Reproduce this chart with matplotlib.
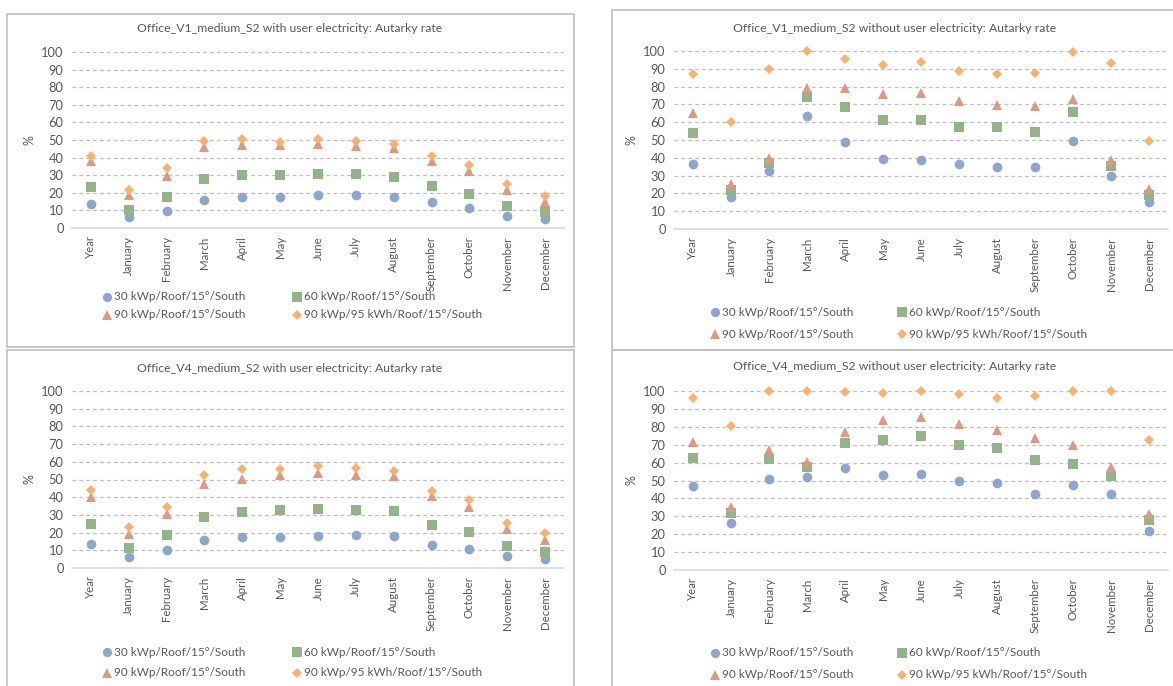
import matplotlib
matplotlib.use("Agg")
import matplotlib.pyplot as plt
from matplotlib.patches import Rectangle
from matplotlib.lines import Line2D

plt.rcParams['font.family'] = ['Lato', 'DejaVu Sans']

categories = ['Year', 'January', 'February', 'March', 'April', 'May', 'June',
              'July', 'August', 'September', 'October', 'November', 'December']
series_names = ['30 kWp/Roof/15°/South', '60 kWp/Roof/15°/South',
                '90 kWp/Roof/15°/South', '90 kWp/95 kWh/Roof/15°/South']

titles = ['Office_V1_medium_S2 with user electricity: Autarky rate',
          'Office_V1_medium_S2 without user electricity: Autarky rate',
          'Office_V4_medium_S2 with user electricity: Autarky rate',
          'Office_V4_medium_S2 without user electricity: Autarky rate']

v1_with_30 = [13.7, 6.0, 9.8, 15.8, 17.7, 17.7, 18.8, 18.5, 17.5, 14.9, 11.1, 6.8, 5.1]
v1_with_60 = [23.5, 10.5, 17.5, 27.9, 29.9, 30.0, 30.7, 30.5, 29.2, 24.1, 19.6, 12.4, 8.9]
v1_with_90 = [38.0, 18.8, 29.8, 45.8, 47.0, 47.0, 48.0, 46.5, 45.4, 38.2, 32.4, 21.7, 15.0]
v1_with_90b = [40.9, 21.5, 33.9, 49.3, 50.3, 49.0, 50.3, 49.5, 48.0, 40.7, 36.0, 25.2, 18.0]

v1_without_30 = [36.5, 18.0, 32.8, 63.3, 48.9, 39.3, 39.0, 36.5, 34.8, 34.6, 49.3, 29.6, 15.0]
v1_without_60 = [54.1, 21.7, 37.3, 74.0, 68.5, 61.4, 61.2, 57.5, 57.3, 54.7, 65.5, 35.2, 18.9]
v1_without_90 = [65.0, 25.0, 39.7, 79.4, 79.4, 75.7, 76.2, 71.7, 69.9, 69.1, 73.2, 39.0, 22.7]
v1_without_90b = [86.9, 60.1, 90.1, 99.8, 95.3, 91.9, 93.8, 88.6, 87.1, 87.6, 99.3, 93.4, 49.3]

v4_with_30 = [13.6, 6.4, 10.4, 16.0, 17.3, 17.5, 18.3, 18.5, 17.9, 13.2, 10.9, 6.8, 5.1]
v4_with_60 = [24.7, 11.1, 18.5, 29.0, 31.8, 32.6, 33.1, 33.0, 32.4, 24.3, 20.3, 12.4, 9.0]
v4_with_90 = [40.1, 19.4, 30.7, 47.6, 50.5, 52.4, 53.7, 52.4, 51.8, 40.5, 34.5, 22.2, 16.0]
v4_with_90b = [43.9, 23.0, 34.5, 52.4, 55.9, 55.9, 57.4, 56.3, 54.8, 43.3, 38.2, 25.2, 19.6]

v4_without_30 = [46.9, 26.5, 50.8, 52.0, 57.2, 53.3, 53.5, 49.7, 48.6, 42.2, 47.3, 42.2, 21.7]
v4_without_60 = [62.8, 32.0, 62.2, 57.4, 70.7, 72.5, 75.1, 70.1, 68.4, 61.3, 59.1, 52.3, 27.7]
v4_without_90 = [71.4, 35.3, 67.1, 60.6, 77.2, 83.7, 85.6, 81.5, 78.3, 73.8, 69.9, 57.4, 31.2]
v4_without_90b = [95.9, 80.2, 99.8, 99.8, 99.6, 98.9, 99.8, 98.1, 96.3, 97.0, 99.8, 99.8, 72.7]

panels = [
    [v1_with_30, v1_with_60, v1_with_90, v1_with_90b],
    [v1_without_30, v1_without_60, v1_without_90, v1_without_90b],
    [v4_with_30, v4_with_60, v4_with_90, v4_with_90b],
    [v4_without_30, v4_without_60, v4_without_90, v4_without_90b],
]

colors = ['#8FA6CB', '#94B38A', '#DB9A83', '#F7B26F']
markers = ['o', 's', '^', 'D']
msizes = [7, 7.5, 7, 5]
text_c = '#595959'

W, H = 1173, 686
fig = plt.figure(figsize=(W / 100, H / 100), dpi=100)


def px(x0, y_top, x1, y_bot):
    # pixel box (top-left origin) -> figure fraction rect
    return [x0 / W, 1 - y_bot / H, (x1 - x0) / W, (y_bot - y_top) / H]


# panel frames: (left, top, right, bottom)
frames = [(7, 14, 574, 347), (612, 10, 1185, 350),
          (7, 350, 574, 690), (612, 350, 1185, 690)]
# plot areas: (left, y of 100, right, y of 0)
areas = [(72, 52, 564, 228), (674, 51, 1168, 229),
         (72, 391, 564, 568), (674, 391, 1168, 570)]
title_x = [290, 895, 290, 895]
title_y = [28, 28, 368, 366]
legend_rows = [(297, 315), (312, 334), (652, 673), (653, 675)]
legend_x = [(107, 297), (715, 902), (107, 297), (715, 902)]
ylabel_x = [30, 632, 30, 632]

for k in range(4):
    l, t, r, b = frames[k]
    fig.patches.append(Rectangle((l / W, 1 - b / H), (r - l) / W, (b - t) / H,
                                 transform=fig.transFigure, fill=False,
                                 edgecolor='#BFBFBF', linewidth=1.2))

    ax = fig.add_axes(px(*areas[k]))
    x = list(range(len(categories)))
    for s in range(4):
        ax.plot(x, panels[k][s], linestyle='none', marker=markers[s],
                markersize=msizes[s], color=colors[s], markeredgewidth=0,
                zorder=3 + s, clip_on=False)
    ax.set_xlim(-0.5, len(categories) - 0.5)
    ax.set_ylim(0, 100)
    ax.set_yticks(range(0, 101, 10))
    ax.set_xticks(x)
    ax.set_xticklabels(categories, rotation=90)
    ax.tick_params(length=0, labelcolor=text_c)
    ax.tick_params(axis='x', labelsize=8.3, pad=6)
    ax.tick_params(axis='y', labelsize=9.3, pad=6)
    for side in ['top', 'right', 'left']:
        ax.spines[side].set_visible(False)
    ax.spines['bottom'].set_color('#D9D9D9')
    ax.spines['bottom'].set_linewidth(1.2)
    for v in range(10, 101, 10):
        ax.axhline(v, color='#BFBFBF', linestyle=(0, (3, 2.5)),
                   linewidth=0.9, zorder=1)
    ax.patch.set_alpha(0)

    fig.text(title_x[k] / W, 1 - title_y[k] / H, titles[k],
             ha='center', va='center', fontsize=8.8, color=text_c)
    yc = (areas[k][1] + areas[k][3]) / 2
    fig.text(ylabel_x[k] / W, 1 - yc / H, '%', rotation=90, ha='center',
             va='center', fontsize=9, color=text_c)

    # legend, 2 x 2
    for s in range(4):
        mx = legend_x[k][s % 2]
        my = legend_rows[k][s // 2]
        fig.add_artist(Line2D([mx / W], [1 - my / H], transform=fig.transFigure,
                              marker=markers[s], markersize=msizes[s] * 0.95,
                              color=colors[s], markeredgewidth=0,
                              linestyle='none'))
        fig.text((mx + 7) / W, 1 - my / H, series_names[s], ha='left',
                 va='center', fontsize=8.5, color=text_c)

fig.savefig('out.png', dpi=100)
